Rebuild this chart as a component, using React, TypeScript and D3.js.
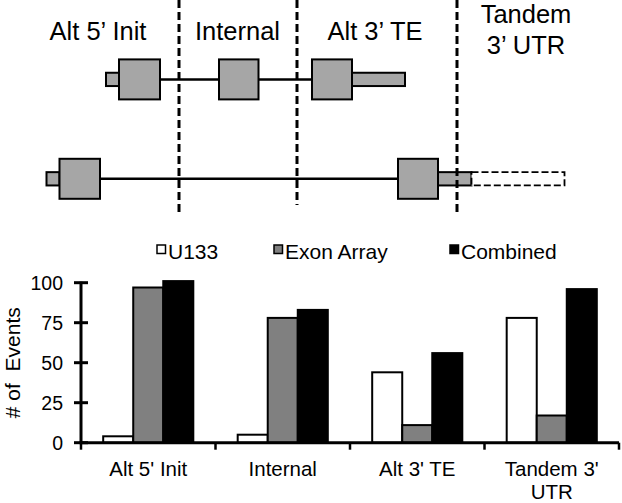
import React from "react";
import * as d3 from "d3";

// ---------- data ----------
const categories = ["Alt 5' Init", "Internal", "Alt 3' TE", "Tandem 3' UTR"];
const categoryLines = [["Alt 5' Init"], ["Internal"], ["Alt 3' TE"], ["Tandem 3'", "UTR"]];
const seriesNames = ["U133", "Exon Array", "Combined"];
const u133 = [4, 5, 44, 78];
const exonArray = [97, 78, 11, 17];
const combined = [101, 83, 56, 96];
const yTicks = [0, 25, 50, 75, 100];
const seriesColors = ["#ffffff", "#808080", "#000000"];

// schematic (top panel) – region headings and transcript features in diagram units
const regionLabels = [["Alt 5\u2019 Init"], ["Internal"], ["Alt 3\u2019 TE"], ["Tandem", "3\u2019 UTR"]];
const regionCenters = [98, 237.5, 375, 526];
const regionBounds = [179, 297, 457];
const regionBoundEnds = [213, 205, 213];
const transcriptA = [
  { kind: "utr", start: 106, end: 119 },
  { kind: "exon", start: 119, end: 160 },
  { kind: "exon", start: 219, end: 258.5 },
  { kind: "exon", start: 312, end: 352 },
  { kind: "utr", start: 352, end: 405 },
];
const transcriptB = [
  { kind: "utr", start: 46.5, end: 59.5 },
  { kind: "exon", start: 59.5, end: 100 },
  { kind: "exon", start: 398, end: 438 },
  { kind: "utr", start: 438, end: 471.5 },
  { kind: "alt", start: 471.5, end: 564.5 },
];

const FONT = "'Liberation Sans', Arial, Helvetica, sans-serif";
const W = 622;
const H = 503;

function Transcript({ feats, cy, sx }: { feats: any[]; cy: number; sx: d3.ScaleLinear<number, number> }) {
  const exons = feats.filter((f) => f.kind === "exon");
  const lineStart = exons[0].end;
  const lineEnd = exons[exons.length - 1].start;
  return (
    <g>
      <line x1={sx(lineStart)} x2={sx(lineEnd)} y1={cy} y2={cy} stroke="#000" strokeWidth={2.5} />
      {feats.map((f, i) => {
        const h = f.kind === "exon" ? 40 : 13.3;
        return (
          <rect
            key={i}
            x={sx(f.start)}
            y={cy - h / 2}
            width={sx(f.end) - sx(f.start)}
            height={h}
            fill={f.kind === "alt" ? "#ffffff" : "#a6a6a6"}
            stroke="#000"
            strokeWidth={f.kind === "alt" ? 1.8 : 2}
            strokeDasharray={f.kind === "alt" ? "7,3" : undefined}
          />
        );
      })}
    </g>
  );
}

export default function App() {
  const sx = d3.scaleLinear().domain([0, W]).range([0, W]);

  const left = 81;
  const right = 619;
  const y = d3.scaleLinear().domain([0, 100]).range([442.7, 282.7]);
  const x0 = d3.scaleBand<string>().domain(categories).range([left, right]).paddingInner(0.33).paddingOuter(0.165);
  const x1 = d3.scaleBand<string>().domain(seriesNames).range([0, x0.bandwidth()]).padding(0);
  const step = x0.step();
  const boundaries = d3.range(categories.length + 1).map((i) => left + i * step);
  const values = [u133, exonArray, combined];

  const legendX = [157, 274, 450];

  return (
    <svg
      width={W}
      height={H}
      viewBox={`0 0 ${W} ${H}`}
      style={{ position: "absolute", left: 0, top: 0, background: "#fff" }}
      fontFamily={FONT}
    >
      <rect x={0} y={0} width={W} height={H} fill="#fff" />

      {/* ---------- schematic ---------- */}
      {regionLabels.map((lines, i) =>
        lines.map((t, j) => (
          <text
            key={`${i}-${j}`}
            x={regionCenters[i]}
            y={lines.length === 1 ? 40 : 23 + j * 31}
            textAnchor="middle"
            fontSize={25.5}
            fill="#000"
          >
            {t}
          </text>
        ))
      )}
      <Transcript feats={transcriptA} cy={79.4} sx={sx} />
      <Transcript feats={transcriptB} cy={178.8} sx={sx} />
      {regionBounds.map((bx, i) => (
        <line
          key={i}
          x1={sx(bx)}
          x2={sx(bx)}
          y1={0}
          y2={regionBoundEnds[i]}
          stroke="#000"
          strokeWidth={3}
          strokeDasharray="8,4"
        />
      ))}

      {/* ---------- legend ---------- */}
      {seriesNames.map((s, i) => (
        <g key={s}>
          <rect x={legendX[i]} y={245} width={8.5} height={8.5} fill={seriesColors[i]} stroke="#000" strokeWidth={1.5} />
          <text x={legendX[i] + 11} y={259} fontSize={21} fill="#000">
            {s}
          </text>
        </g>
      ))}

      {/* ---------- bars ---------- */}
      {categories.map((c, ci) => (
        <g key={c} transform={`translate(${x0(c)},0)`}>
          {seriesNames.map((s, si) => {
            const v = values[si][ci];
            return (
              <rect
                key={s}
                x={x1(s)}
                y={y(v)}
                width={x1.bandwidth()}
                height={y(0) - y(v)}
                fill={seriesColors[si]}
                stroke="#000"
                strokeWidth={2}
              />
            );
          })}
        </g>
      ))}

      {/* ---------- axes ---------- */}
      <line x1={left} x2={left} y1={y(100) - 1} y2={y(0)} stroke="#000" strokeWidth={3} />
      {yTicks.map((t) => (
        <g key={t}>
          <line x1={left - 7} x2={left + 7} y1={y(t)} y2={y(t)} stroke="#000" strokeWidth={3} />
          <text x={63} y={y(t) + 7} textAnchor="end" fontSize={19.5} fill="#000">
            {t}
          </text>
        </g>
      ))}
      <line x1={left - 1.5} x2={right} y1={y(0)} y2={y(0)} stroke="#000" strokeWidth={3} />
      {boundaries.map((bx, i) => (
        <line key={i} x1={bx} x2={bx} y1={y(0)} y2={y(0) + 7} stroke="#000" strokeWidth={2.5} />
      ))}
      {categories.map((c, ci) =>
        categoryLines[ci].map((t, j) => (
          <text
            key={`${c}-${j}`}
            x={(x0(c) as number) + x0.bandwidth() / 2}
            y={476 + j * 23}
            textAnchor="middle"
            fontSize={20.5}
            fill="#000"
          >
            {t}
          </text>
        ))
      )}
      <text transform={`translate(20,${y(50)}) rotate(-90)`} textAnchor="middle" fontSize={21} fill="#000" xmlSpace="preserve">
        {"# of  Events"}
      </text>
    </svg>
  );
}
